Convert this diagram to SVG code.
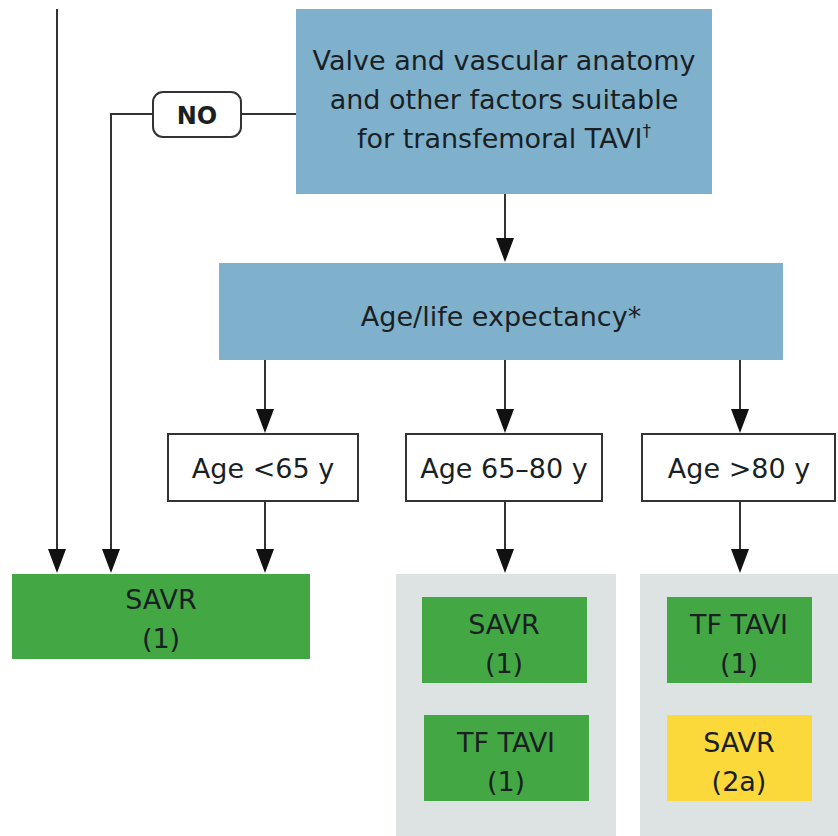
<svg xmlns="http://www.w3.org/2000/svg" width="838" height="836" viewBox="0 0 838 836">
<style>
text{font-family:"DejaVu Sans","Liberation Sans",sans-serif;fill:#1a1f24;text-anchor:middle}
.t{font-size:27px}
.s{font-size:27px}
.blue{fill:#80b1cc}
.green{fill:#43a843}
.yellow{fill:#fcd93a}
.grey{fill:#dde3e3}
.white{fill:#fff;stroke:#333;stroke-width:2}
.ln{fill:none;stroke:#333;stroke-width:2}
.ah{fill:#111}
</style>
<rect width="838" height="836" fill="#fff"/>
<g id="connectors">
<path class="ln" d="M57,9 V550"/>
<path class="ah" d="M48,549 L66,549 L57,573 Z"/>
<path class="ln" d="M296,114 H241 M153,114 H111 V550"/>
<path class="ah" d="M102,549 L120,549 L111,573 Z"/>
<path class="ln" d="M505,194 V239"/>
<path class="ah" d="M496,238 L514,238 L505,262 Z"/>
<path class="ln" d="M265,360 V410"/>
<path class="ah" d="M256,409 L274,409 L265,433 Z"/>
<path class="ln" d="M505,360 V410"/>
<path class="ah" d="M496,409 L514,409 L505,433 Z"/>
<path class="ln" d="M740,360 V410"/>
<path class="ah" d="M731,409 L749,409 L740,433 Z"/>
<path class="ln" d="M265,501 V550"/>
<path class="ah" d="M256,549 L274,549 L265,573 Z"/>
<path class="ln" d="M505,501 V550"/>
<path class="ah" d="M496,549 L514,549 L505,573 Z"/>
<path class="ln" d="M740,501 V550"/>
<path class="ah" d="M731,549 L749,549 L740,573 Z"/>
</g>
<g id="valve">
<rect class="blue" x="296" y="9" width="416" height="185"/>
<text class="t" x="504" y="70">Valve and vascular anatomy</text>
<text class="t" x="504" y="109">and other factors suitable</text>
<text class="t" x="504" y="148">for transfemoral TAVI<tspan font-size="17" dy="-11">†</tspan></text>
</g>
<g id="no">
<rect x="153" y="92" width="88" height="45" rx="10" fill="#fff" stroke="#333" stroke-width="2"/>
<text x="197" y="124" font-size="24" font-weight="bold">NO</text>
</g>
<g id="age">
<rect class="blue" x="219" y="263" width="564" height="97"/>
<text class="t" x="501" y="326">Age/life expectancy*</text>
</g>
<g id="age65">
<rect class="white" x="168" y="434" width="190" height="67"/>
<text class="s" x="263" y="478">Age &lt;65 y</text>
</g>
<g id="age6580">
<rect class="white" x="406" y="434" width="196" height="67"/>
<text class="s" x="504" y="478">Age 65–80 y</text>
</g>
<g id="age80">
<rect class="white" x="642" y="434" width="193" height="67"/>
<text class="s" x="739" y="478">Age &gt;80 y</text>
</g>
<g id="savr">
<rect class="green" x="12" y="574" width="298" height="85"/>
<text class="s" x="161" y="609">SAVR</text>
<text class="s" x="161" y="648">(1)</text>
</g>
<g id="panel1">
<rect class="grey" x="396" y="574" width="220" height="262"/>
</g>
<g id="savr2">
<rect class="green" x="422" y="597" width="165" height="86"/>
<text class="s" x="504" y="634">SAVR</text>
<text class="s" x="504" y="673">(1)</text>
</g>
<g id="tavi2">
<rect class="green" x="424" y="715" width="165" height="86"/>
<text class="s" x="506" y="752">TF TAVI</text>
<text class="s" x="506" y="791">(1)</text>
</g>
<g id="panel2">
<rect class="grey" x="640" y="574" width="198" height="262"/>
</g>
<g id="tavi3">
<rect class="green" x="667" y="597" width="145" height="86"/>
<text class="s" x="739" y="634">TF TAVI</text>
<text class="s" x="739" y="673">(1)</text>
</g>
<g id="savr3">
<rect class="yellow" x="667" y="715" width="145" height="86"/>
<text class="s" x="739" y="752">SAVR</text>
<text class="s" x="739" y="791">(2a)</text>
</g>
</svg>
